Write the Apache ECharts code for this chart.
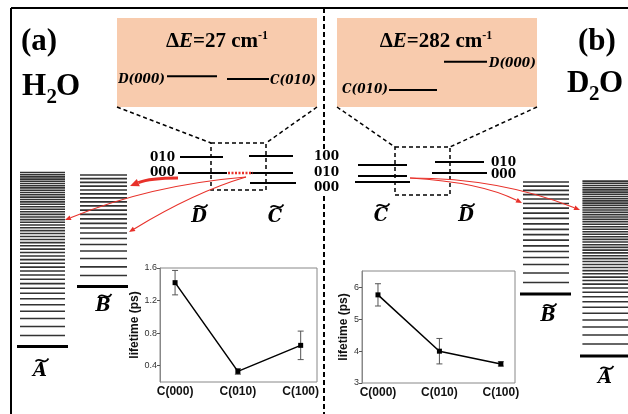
<!DOCTYPE html>
<html><head><meta charset="utf-8">
<script src="https://cdn.jsdelivr.net/npm/echarts@6/dist/echarts.min.js"></script>
<style>html,body{margin:0;padding:0;background:#fff}#c{width:628px;height:414px}</style>
</head><body><div id="c"></div>
<script>
// ---------------- data ----------------
const states = ['C(000)', 'C(010)', 'C(100)'];
const lifetimeH2O = [1.42, 0.33, 0.65];
const errorH2O = [0.15, 0.035, 0.175];
const lifetimeD2O = [5.77, 4.0, 3.6];
const errorD2O = [0.35, 0.4, 0.07];
const ticksH2O = [0.4, 0.8, 1.2, 1.6];
const ticksD2O = [3, 4, 5, 6];

// energy gap between D(000) and C(010), cm-1 (C(010) = 0)
const deltaH2O = 27;
const deltaD2O = 282;

// vibrational ladders (arb. energy units above each ground level)
const ladderA_H2O = [11, 20, 28, 35.2, 41.7, 47.7, 53.2, 58.2, 62.9, 67.3, 71.5, 75.5, 79.4, 83.2, 86.9, 90.5, 94, 97.4, 100.7, 103.9, 107, 110, 113, 115.9, 118.7, 121.5, 124.2, 126.9, 129.5, 132.1, 134.7, 137.2, 139.7, 142.2, 144.6, 147, 149.4, 151.7, 154, 156.3, 158.6, 160.8, 163, 165.2, 167.4, 169.6, 171.8, 174];
const ladderB_H2O = [11, 19.7, 28, 35.5, 42, 48, 53.5, 58.5, 63.2, 67.7, 72.1, 76.4, 80.6, 84.7, 88.7, 92.6, 96.5, 100.3, 104.1, 107.8, 111.5];
const ladderB_D2O = [11.5, 21, 29.5, 36.5, 42.5, 48.2, 53.8, 59.3, 64.7, 70.2, 75.6, 80.8, 85.8, 90.5, 95, 99.4, 103.7, 107.9, 112];
const ladderA_D2O = [12, 21, 29, 36, 42.7, 48.8, 54.2, 59.2, 63.8, 68, 71.9, 75.5, 78.9, 82.2, 85.4, 88.5, 91.5, 94.5, 97.4, 100.3, 103.1, 105.9, 108.6, 111.3, 114, 116.6, 119.2, 121.8, 124.3, 126.8, 129.3, 131.8, 134.2, 136.6, 139, 141.4, 143.7, 146, 148.3, 150.6, 152.9, 155.1, 157.3, 159.5, 161.7, 163.9, 166.1, 168.3, 170.5, 172.7, 174.9];
const groundLevel = [0];

// Rydberg levels (arb. units), order 000, 010, 100
const vibLabelsD = ['000', '010'];
const vibLabelsC = ['000', '010', '100'];
const levelsD_H2O = [17, 33];
const levelsC_H2O = [7, 17, 34];
const levelsC_D2O = [18, 24, 35];
const levelsD_D2O = [27, 38];

// ---------------- helpers ----------------
const SERIF = '"Liberation Serif","Times New Roman",serif';
const DSERIF = '"DejaVu Serif",serif';
const SANS = '"Liberation Sans",Arial,sans-serif';
const RED = '#e8312a';

function levelSeries(gi, energies, x0, x1, lw, color) {
  return {
    type: 'custom', xAxisIndex: gi, yAxisIndex: gi, clip: false, silent: true, z: 3,
    data: energies.map(e => [0, e]),
    renderItem(params, api) {
      const i = params.dataIndex;
      const a = Array.isArray(x0) ? x0[i] : x0, b = Array.isArray(x1) ? x1[i] : x1;
      const e = api.value(1);
      const p = api.coord([a, e]), q = api.coord([b, e]);
      return {type: 'line', shape: {x1: p[0], y1: p[1], x2: q[0], y2: q[1]}, style: {stroke: color, lineWidth: lw}};
    }
  };
}
function errorSeries(gi, vals, errs) {
  return {
    type: 'custom', xAxisIndex: gi, yAxisIndex: gi, silent: true, z: 3,
    data: vals.map((v, i) => [i, v - errs[i], v + errs[i]]),
    renderItem(params, api) {
      const x = api.value(0);
      const lo = api.coord([x, api.value(1)]), hi = api.coord([x, api.value(2)]);
      const w = 3, st = {stroke: '#555', lineWidth: 1};
      return {type: 'group', children: [
        {type: 'line', shape: {x1: lo[0], y1: lo[1], x2: hi[0], y2: hi[1]}, style: st},
        {type: 'line', shape: {x1: lo[0] - w, y1: lo[1], x2: lo[0] + w, y2: lo[1]}, style: st},
        {type: 'line', shape: {x1: hi[0] - w, y1: hi[1], x2: hi[0] + w, y2: hi[1]}, style: st}
      ]};
    }
  };
}
function lineSeries(gi, vals) {
  return {type: 'line', xAxisIndex: gi, yAxisIndex: gi, data: vals.map((v, i) => [i, v]),
    symbol: 'rect', symbolSize: 5, itemStyle: {color: '#000'}, lineStyle: {color: '#000', width: 1.5}, z: 4, silent: true};
}
function L(x1, y1, x2, y2, lw, dash, color) {
  return {type: 'line', silent: true, z: 20, shape: {x1, y1, x2, y2}, style: {stroke: color || '#000', lineWidth: lw, lineDash: dash || null}};
}
function T(text, x, y, o) {
  return {type: 'text', x, y, z: 20, silent: true, style: Object.assign({text, fill: '#000', align: 'left', verticalAlign: 'middle'}, o)};
}
function arrow(x1, y1, cx, cy, x2, y2, lw, hl, hw) {
  const dx = x2 - cx, dy = y2 - cy, d = Math.hypot(dx, dy), ux = dx / d, uy = dy / d;
  const bx = x2 - ux * hl, by = y2 - uy * hl;
  return [
    {type: 'bezierCurve', silent: true, z: 21, shape: {x1, y1, x2: bx, y2: by, cpx1: cx, cpy1: cy}, style: {stroke: RED, lineWidth: lw, fill: null}},
    {type: 'polygon', silent: true, z: 21, shape: {points: [[x2, y2], [bx - uy * hw / 2, by + ux * hw / 2], [bx + uy * hw / 2, by - ux * hw / 2]]}, style: {fill: RED}}
  ];
}
function tildeLetter(ch, cx, cy) {
  const tx = cx + 2, ty = cy - 11;
  return [
    T(ch, cx, cy, {align: 'center', fontFamily: DSERIF, fontWeight: 'bold', fontStyle: 'italic', fontSize: 18}),
    {type: 'bezierCurve', silent: true, z: 20,
     shape: {x1: tx - 6.5, y1: ty + 1.5, cpx1: tx - 2, cpy1: ty - 4, cpx2: tx + 2, cpy2: ty + 6, x2: tx + 6.5, y2: ty - 1.5},
     style: {stroke: '#000', fill: null, lineWidth: 1.7}}
  ];
}
const bigSerif = {fontFamily: SERIF, fontWeight: 'bold', fontSize: 31};
const subSerif = {fontFamily: SERIF, fontWeight: 'bold', fontSize: 21};
const levelLab = {fontFamily: DSERIF, fontWeight: 'bold', fontStyle: 'italic', fontSize: 12};
const vibLab = {fontFamily: DSERIF, fontWeight: 'bold', fontSize: 12};
function deltaText(v, x) {
  return T('{a|\u0394}{b|E}{a|=' + v + ' cm}{c|-1}', x, 42, {align: 'center',
    rich: {
      a: {fontFamily: SERIF, fontWeight: 'bold', fontSize: 21, lineHeight: 24},
      b: {fontFamily: SERIF, fontWeight: 'bold', fontStyle: 'italic', fontSize: 21, lineHeight: 24},
      c: {fontFamily: SERIF, fontWeight: 'bold', fontSize: 12, verticalAlign: 'top', lineHeight: 14}
    }});
}

// ---------------- grids / axes ----------------
const gridDefs = [
  {left: 160, top: 268, width: 157, height: 114, show: true, borderColor: '#888', borderWidth: 1}, // 0 inset H2O
  {left: 362, top: 271, width: 153, height: 112, show: true, borderColor: '#888', borderWidth: 1}, // 1 inset D2O
  {left: 17, top: 172, width: 51, height: 174.5},   // 2 A~ H2O
  {left: 77, top: 175, width: 51, height: 111.5},   // 3 B~ H2O
  {left: 520, top: 182, width: 51, height: 112},    // 4 B~ D2O
  {left: 580, top: 181, width: 60, height: 175},    // 5 A~ D2O
  {left: 140, top: 140, width: 180, height: 50},    // 6 Rydberg H2O
  {left: 340, top: 140, width: 180, height: 60},    // 7 Rydberg D2O
  {left: 117, top: 18, width: 200, height: 89},     // 8 zoom H2O
  {left: 337, top: 18, width: 200, height: 89}      // 9 zoom D2O
];
const yRanges = [null, null, [0, 174.5], [0, 111.5], [0, 112], [0, 175], [0, 50], [0, 60], [-280, 610], [-170, 720]];
const xAxes = [], yAxes = [];
function insetAxes(gi, ymin, ymax, ticks, xmin, xmax, gap) {
  xAxes.push({type: 'value', gridIndex: gi, min: xmin, max: xmax, axisLine: {show: false, onZero: false}, axisTick: {show: false}, splitLine: {show: false},
    axisLabel: {customValues: [0, 1, 2], formatter: v => states[Math.round(v)], fontFamily: SANS, fontWeight: 'bold', fontSize: 12, color: '#111', margin: 4}});
  yAxes.push({type: 'value', gridIndex: gi, min: ymin, max: ymax, splitLine: {show: false},
    axisLine: {show: true, onZero: false, lineStyle: {color: '#888'}},
    axisTick: {show: true, length: 3, customValues: ticks, lineStyle: {color: '#555'}},
    axisLabel: {customValues: ticks, fontFamily: SANS, fontSize: 9, color: '#333', margin: 3},
    name: 'lifetime (ps)', nameLocation: 'middle', nameGap: gap,
    nameTextStyle: {fontFamily: SANS, fontWeight: 'bold', fontSize: 12, color: '#111'}});
}
insetAxes(0, 0.2, 1.6, ticksH2O, -0.24, 2.26, 15);
insetAxes(1, 3, 6.52, ticksD2O, -0.26, 2.23, 12);
for (let gi = 2; gi < gridDefs.length; gi++) {
  xAxes.push({type: 'value', gridIndex: gi, min: 0, max: gridDefs[gi].width, show: false});
  yAxes.push({type: 'value', gridIndex: gi, min: yRanges[gi][0], max: yRanges[gi][1], show: false});
}

// ---------------- series ----------------
const series = [
  errorSeries(0, lifetimeH2O, errorH2O), lineSeries(0, lifetimeH2O),
  errorSeries(1, lifetimeD2O, errorD2O), lineSeries(1, lifetimeD2O),
  levelSeries(2, ladderA_H2O, 3, 48, 1.6, '#333'), levelSeries(2, groundLevel, 0, 51, 2.8, '#000'),
  levelSeries(3, ladderB_H2O, 3, 50, 1.7, '#333'), levelSeries(3, groundLevel, 0, 51, 2.8, '#000'),
  levelSeries(4, ladderB_D2O, 3, 49, 1.7, '#333'), levelSeries(4, groundLevel, 0, 51, 2.8, '#000'),
  levelSeries(5, ladderA_D2O, 3, 60, 1.6, '#333'), levelSeries(5, groundLevel, 0, 60, 2.8, '#000'),
  levelSeries(6, levelsD_H2O, [38, 40], [87, 83], 2, '#000'),
  levelSeries(6, levelsC_H2O, [110, 110, 109], [156, 153, 153], 2, '#000'),
  levelSeries(7, levelsC_D2O, [15, 18, 18], [70, 67, 67], 2, '#000'),
  levelSeries(7, levelsD_D2O, [92, 95], [147, 144], 2, '#000'),
  levelSeries(8, [deltaH2O], 50, 100, 2, '#000'), levelSeries(8, [0], 110, 152, 2, '#000'),
  levelSeries(9, [deltaD2O], 107, 150, 2, '#000'), levelSeries(9, [0], 52, 100, 2, '#000')
];

// ---------------- annotations ----------------
const dash = [4, 3];
const graphics = [
  {type: 'rect', silent: true, z: -10, shape: {x: 117, y: 18, width: 200, height: 89}, style: {fill: '#f8cbad'}},
  {type: 'rect', silent: true, z: -10, shape: {x: 337, y: 18, width: 200, height: 89}, style: {fill: '#f8cbad'}},
  L(11, 8, 628, 8, 2), L(11, 8, 11, 414, 2),
  L(324, 8, 324, 149, 2, [5, 3]), L(324, 196, 324, 414, 2, [5, 3]),
  // zoom guides
  L(117, 107, 211, 143, 1.5, dash), L(317, 107, 266, 143, 1.5, dash),
  {type: 'rect', silent: true, z: 20, shape: {x: 211, y: 143, width: 55, height: 47}, style: {fill: null, stroke: '#000', lineWidth: 1.5, lineDash: dash}},
  L(337, 107, 395, 147, 1.5, dash), L(537, 107, 450, 147, 1.5, dash),
  {type: 'rect', silent: true, z: 20, shape: {x: 395, y: 147, width: 55, height: 48}, style: {fill: null, stroke: '#000', lineWidth: 1.5, lineDash: dash}},
  L(228, 173, 253, 173, 2.5, [2, 1.5], RED),
  ...arrow(178, 178, 150, 178, 130, 186, 3, 9, 8),
  ...arrow(246, 177, 150, 185, 65, 220, 1.2, 6, 5),
  ...arrow(246, 177, 195, 192, 129, 232, 1.2, 6, 5),
  ...arrow(410, 178, 480, 182, 522, 203, 1.2, 6, 5),
  ...arrow(410, 178, 500, 178, 580, 210, 1.2, 6, 5),
  // titles
  T('(a)', 21, 42, bigSerif), T('H', 22, 87, bigSerif), T('2', 46.5, 98, subSerif), T('O', 56, 87, bigSerif),
  T('(b)', 578, 42, bigSerif), T('D', 567, 83.5, bigSerif), T('2', 589, 95, subSerif), T('O', 599, 83.5, bigSerif),
  deltaText(deltaH2O, 217), deltaText(deltaD2O, 436),
  T('D(000)', 165, 80, Object.assign({align: 'right'}, levelLab)), T('C(010)', 270, 81, levelLab),
  T('D(000)', 489, 64, levelLab), T('C(010)', 388, 90, Object.assign({align: 'right'}, levelLab)),
  T(vibLabelsD[1], 175, 157.5, Object.assign({align: 'right'}, vibLab)), T(vibLabelsD[0], 175, 173, Object.assign({align: 'right'}, vibLab)),
  T(vibLabelsC[2], 314, 157, vibLab), T(vibLabelsC[1], 314, 173, vibLab), T(vibLabelsC[0], 314, 188, vibLab),
  T(vibLabelsD[1], 491, 163, vibLab), T(vibLabelsD[0], 491, 175, vibLab),
  ...tildeLetter('D', 199, 217), ...tildeLetter('C', 275, 217),
  ...tildeLetter('A', 40, 371), ...tildeLetter('B', 103, 306.5),
  ...tildeLetter('C', 381, 216), ...tildeLetter('D', 466, 216),
  ...tildeLetter('B', 548, 316), ...tildeLetter('A', 605, 378.5)
];

const chart = echarts.init(document.getElementById('c'), null, {renderer: 'canvas', width: 628, height: 414});
chart.setOption({
  animation: false,
  backgroundColor: '#fff',
  grid: gridDefs,
  xAxis: xAxes,
  yAxis: yAxes,
  series: series,
  graphic: {elements: graphics}
});
</script>
</body></html>
